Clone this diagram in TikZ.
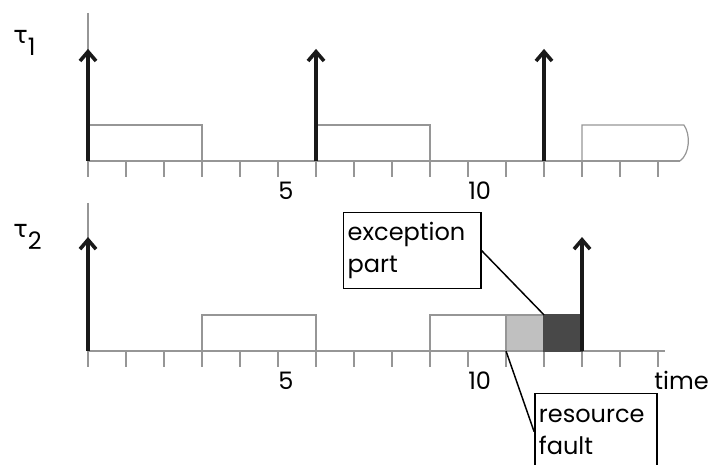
\documentclass[tikz,border=0pt]{standalone}
\usepackage{fontspec}
\setmainfont{Poppins}
\newfontfamily\greekfont{DejaVu Sans}
\usetikzlibrary{arrows.meta}
\definecolor{axisgray}{RGB}{150,150,150}
\definecolor{faultgray}{RGB}{192,192,192}
\definecolor{excgray}{RGB}{72,72,72}
\definecolor{arrowdark}{RGB}{25,25,25}
\tikzset{
  >={Straight Barb[length=7pt,width=12pt]},
}
\tikzstyle{axis}=[axisgray,line width=0.9pt]
\tikzstyle{release}=[arrowdark,line width=2.7pt,->]
\tikzstyle{callout}=[draw,line width=1.1pt,anchor=north west,align=left,inner sep=3pt,minimum height=2cm]
\tikzstyle{tick label}=[anchor=base west,inner sep=0pt]
\tikzstyle{every node}=[font=\fontsize{18}{24}\selectfont]

\begin{document}
\begin{tikzpicture}
    \useasboundingbox (-2.316,-2.974) rectangle (16.368,9.237);
    % task 1
    \draw[axis] (0,8.9)--(0,4.57);
    \draw[axis] (0,5)--(15.58,5);
    \foreach \t in {1,...,15} \draw[axis] (\t,5)--(\t,4.57);
    \draw[axis] (0,5) rectangle (3,5.95);
    \draw[axis] (6,5) rectangle (9,5.95);
    \draw[axis] (13,5)--(13,5.95)--(15.68,5.95) .. controls (15.86,5.7) and (15.84,5.2) .. (15.58,5);
    \foreach \t in {0,6,12} \draw[release] (\t,5)--(\t,7.95);
    \node[tick label] (five1) at (5,4) {5};
    \node[tick label] (ten1) at (10,4) {10};
    \node[anchor=base west,inner sep=0pt] (tau1) at (-1.97,8.08) {{\greekfont τ}\raisebox{-9pt}{1}};
    % task 2
    \draw[axis] (0,3.9)--(0,-0.43);
    \draw[axis] (0,0)--(15.18,0);
    \foreach \t in {1,...,15} \draw[axis] (\t,0)--(\t,-0.43);
    \draw[axis] (3,0) rectangle (6,0.95);
    \draw[axis] (9,0) rectangle (11,0.95);
    \filldraw[axis,fill=faultgray] (11,0) rectangle (12,0.95);
    \filldraw[draw=excgray,line width=0.9pt,fill=excgray] (12,0) rectangle (13,0.95);
    \foreach \t in {0,13} \draw[release] (\t,0)--(\t,3);
    \node[tick label] (five2) at (5,-1) {5};
    \node[tick label] (ten2) at (10,-1) {10};
    \node[tick label] (time) at (14.9,-1) {time};
    \node[anchor=base west,inner sep=0pt] (tau2) at (-1.97,3) {{\greekfont τ}\raisebox{-9pt}{2}};
    % callouts
    \coordinate (fault) at (11,0);
    \coordinate (exc) at (12,0.95);
    \node[callout,text width=3.4cm] (excpart) at (6.71,3.66) {exception\\part};
    \node[callout,text width=3.0cm] (resfault) at (11.74,-1.105) {resource\\fault};
    \draw[line width=1.1pt] (excpart.east)--(exc);
    \draw[line width=1.1pt] (resfault.west)--(fault);
\end{tikzpicture}
\end{document}
